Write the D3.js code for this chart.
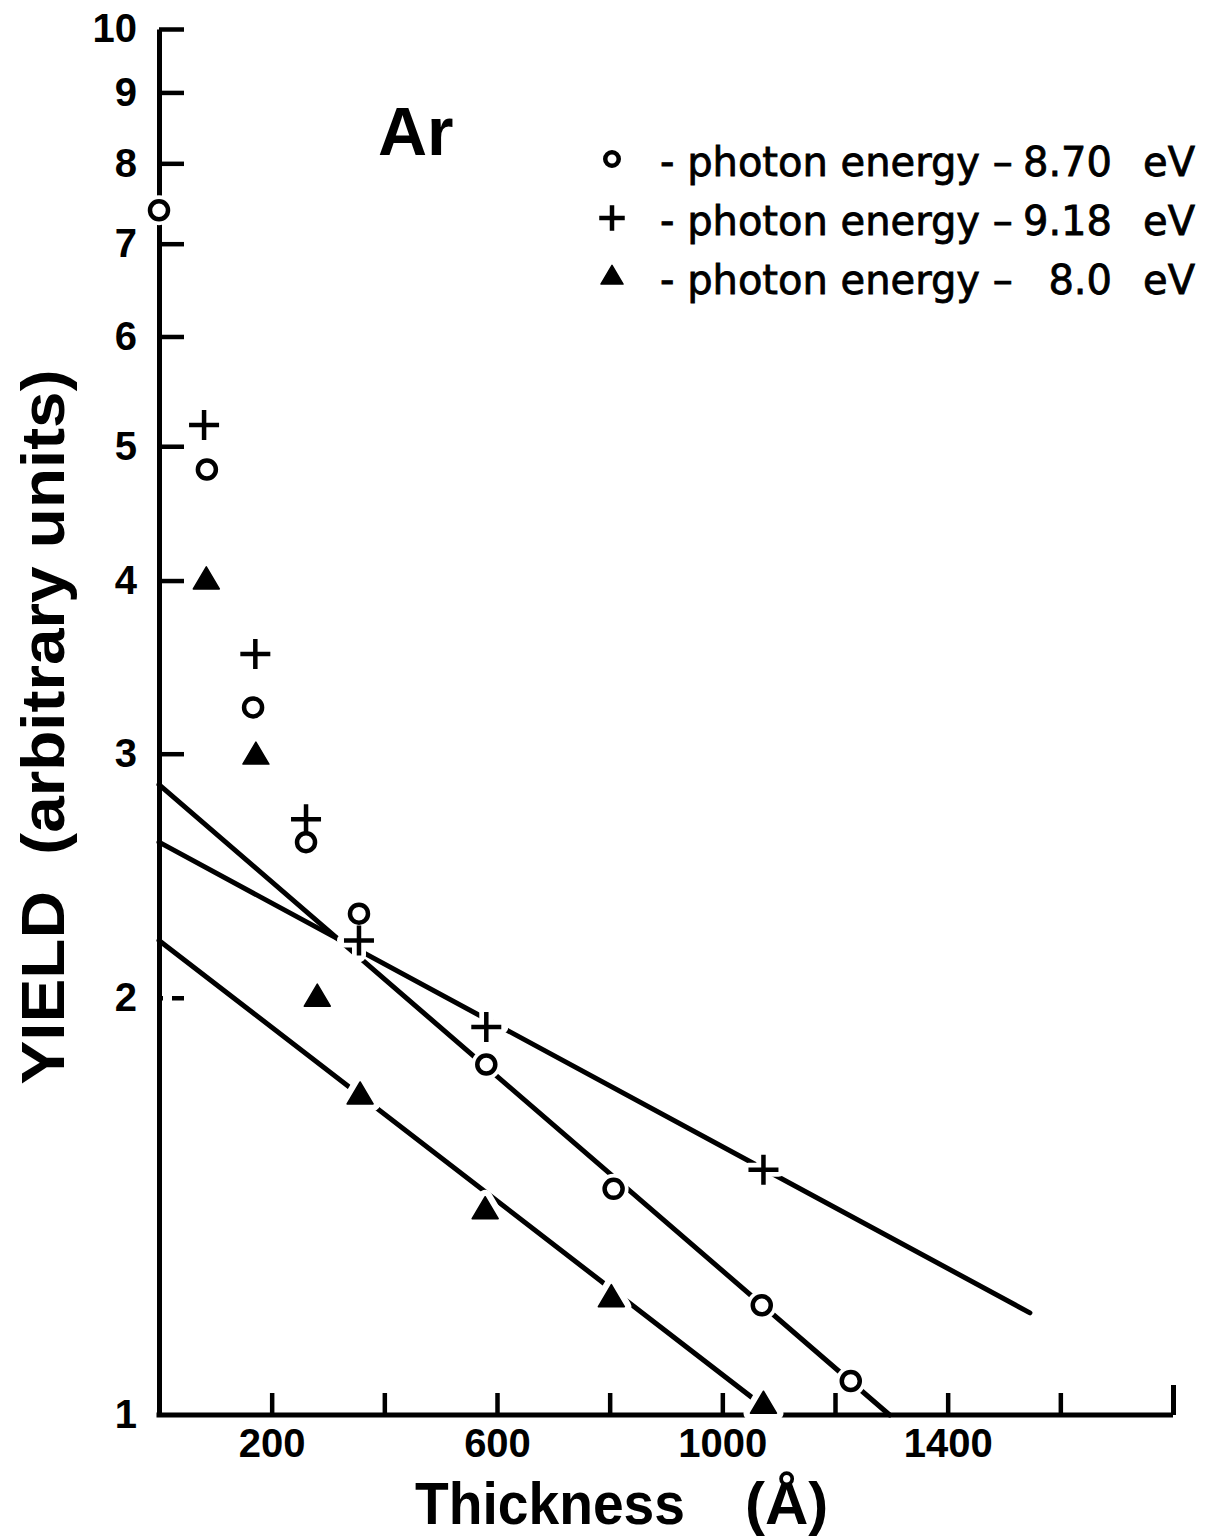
<!DOCTYPE html>
<html>
<head>
<meta charset="utf-8">
<script src="https://cdn.jsdelivr.net/npm/d3@7"></script>
<style>
  html, body { margin: 0; padding: 0; background: #fff; }
  svg { display: block; }
  text { fill: #000; }
</style>
</head>
<body>
<svg id="chart" width="1205" height="1539"></svg>
<script>
// Photoyield of solid Ar films versus film thickness, three photon energies
const yTicks = [1, 2, 3, 4, 5, 6, 7, 8, 9, 10];
const xTicks = [200, 400, 600, 800, 1000, 1200, 1400, 1600, 1800];
const xTickLabels = [200, 600, 1000, 1400];

// 8.70 eV (open circles)
const circleThickness = [0, 85, 167, 261, 355, 581, 807, 1070, 1228];
const circleYield     = [7.4, 4.81, 3.24, 2.59, 2.30, 1.79, 1.456, 1.20, 1.058];
// 9.18 eV (crosses)
const plusThickness = [80, 171, 261, 355, 581, 1073];
const plusYield     = [5.18, 3.54, 2.69, 2.20, 1.905, 1.503];
// 8.0 eV (filled triangles)
const triThickness = [84, 172, 281, 357, 579, 803, 1073];
const triYield     = [4.00, 2.99, 2.00, 1.70, 1.405, 1.214, 1.017];

// straight-line fits (thickness, yield) end points
const fitCircle = [[0, 2.85], [1297, 1]];
const fitPlus   = [[0, 2.59], [1546, 1.185]];
const fitTri    = [[0, 2.20], [1093, 1]];

const legendSymbols = ["circle", "plus", "triangle"];
const legendEnergies = ["8.70", "9.18", "8.0"];

const svg = d3.select("#chart");
svg.append("rect").attr("width", 1205).attr("height", 1539).attr("fill", "#fff");

const x = d3.scaleLinear().domain([0, 1800]).range([159, 1173]);
const y = d3.scaleLog().domain([1, 10]).range([1415, 29]);

const tickFont = "'Liberation Sans', Arial, sans-serif";

// y axis (ticks pointing into the plot)
const yAxis = svg.append("g")
  .attr("transform", `translate(${x(0)},0)`)
  .call(d3.axisLeft(y).tickValues(yTicks).tickFormat(d3.format("d"))
        .tickSize(-25).tickSizeOuter(0).tickPadding(22));
yAxis.select(".domain").attr("stroke", "#000").attr("stroke-width", 5);
yAxis.selectAll(".tick line").attr("stroke", "#000").attr("stroke-width", 4.5);
yAxis.selectAll(".tick").filter(d => d === 1).select("line").remove();
yAxis.selectAll(".tick").filter(d => d === 2).select("line")
  .attr("stroke-dasharray", "4,9,20,100");
yAxis.selectAll(".tick text")
  .attr("font-family", tickFont).attr("font-weight", "bold").attr("font-size", 40);

// x axis
const xAxis = svg.append("g")
  .attr("transform", `translate(0,${y(1)})`)
  .call(d3.axisBottom(x).tickValues(xTicks)
        .tickFormat(d => xTickLabels.includes(d) ? d : "")
        .tickSize(-22).tickSizeOuter(0).tickPadding(14));
xAxis.select(".domain").attr("stroke", "#000").attr("stroke-width", 5)
  .attr("d", `M${x(0) - 2.5},0H${x(1800)}`);
xAxis.selectAll(".tick line").attr("stroke", "#000").attr("stroke-width", 4.5);
xAxis.selectAll(".tick").filter(d => d === 1800).select("line")
  .attr("y2", -30).attr("stroke-width", 5);
xAxis.selectAll(".tick text")
  .attr("font-family", tickFont).attr("font-weight", "bold").attr("font-size", 40);

// fitted lines
const line = d3.line().x(d => x(d[0])).y(d => y(d[1]));
[fitCircle, fitPlus, fitTri].forEach(f => {
  svg.append("path").attr("d", line(f))
    .attr("fill", "none").attr("stroke", "#000").attr("stroke-width", 5)
    .attr("stroke-linecap", "round");
});

// marker shapes
function triPath(w, h) {
  return `M0,${-h * 0.62}L${w / 2},${h * 0.38}L${-w / 2},${h * 0.38}Z`;
}
function drawMarker(g, kind, scale, halo) {
  const s = scale;
  if (kind === "circle") {
    g.append("circle").attr("r", 9 * s)
      .attr("fill", "#fff")
      .attr("stroke", halo ? "#fff" : "#000")
      .attr("stroke-width", halo ? 12 : 4.5);
  } else if (kind === "plus") {
    const a = 15 * s;
    g.append("path").attr("d", `M${-a},0H${a}M0,${-a}V${a}`)
      .attr("stroke", halo ? "#fff" : "#000")
      .attr("stroke-width", halo ? 14 : 4.5)
      .attr("stroke-linecap", halo ? "round" : "butt");
  } else {
    g.append("path").attr("d", triPath(26 * s, 22 * s))
      .attr("fill", halo ? "#fff" : "#000")
      .attr("stroke", halo ? "#fff" : "#000")
      .attr("stroke-width", halo ? 14 : 1.5)
      .attr("stroke-linejoin", "round");
  }
}

const series = [
  { kind: "circle",   xs: circleThickness, ys: circleYield },
  { kind: "plus",     xs: plusThickness,   ys: plusYield },
  { kind: "triangle", xs: triThickness,    ys: triYield }
];

// white halos first so the lines break around each point
[true, false].forEach(halo => {
  series.forEach(s => {
    s.xs.forEach((t, i) => {
      const g = svg.append("g").attr("transform", `translate(${x(t)},${y(s.ys[i])})`);
      drawMarker(g, s.kind, 1, halo);
    });
  });
});

// element label
svg.append("text").attr("x", 378).attr("y", 155)
  .attr("font-family", tickFont).attr("font-weight", "bold").attr("font-size", 68)
  .text("Ar");

// legend
const legendFont = "'DejaVu Sans', sans-serif";
const rowY = [176, 235, 294];
legendSymbols.forEach((k, i) => {
  const g = svg.append("g").attr("transform", `translate(612,${rowY[i] - 17})`);
  drawMarker(g, k, k === "circle" ? 0.75 : 0.85, false);
  const row = svg.append("g")
    .attr("font-family", legendFont).attr("font-size", 40)
    .attr("stroke", "#000").attr("stroke-width", 0.8);
  row.append("text").attr("x", 660).attr("y", rowY[i]).text("- photon energy –");
  row.append("text").attr("x", 1112).attr("y", rowY[i]).attr("text-anchor", "end")
    .text(legendEnergies[i]);
  row.append("text").attr("x", 1195).attr("y", rowY[i]).attr("text-anchor", "end")
    .text("eV");
});

// axis titles
svg.append("text")
  .attr("transform", "translate(64,727) rotate(-90)")
  .attr("text-anchor", "middle")
  .attr("font-family", tickFont).attr("font-weight", "bold").attr("font-size", 62)
  .attr("textLength", 715).attr("lengthAdjust", "spacingAndGlyphs")
  .style("white-space", "pre")
  .text("YIELD  (arbitrary units)");

svg.append("text")
  .attr("x", 415).attr("y", 1524)
  .attr("font-family", tickFont).attr("font-weight", "bold").attr("font-size", 60)
  .attr("textLength", 270).attr("lengthAdjust", "spacingAndGlyphs")
  .text("Thickness");
svg.append("text")
  .attr("x", 745).attr("y", 1524)
  .attr("font-family", tickFont).attr("font-weight", "bold").attr("font-size", 60)
  .text("(Å)");
</script>
</body>
</html>
